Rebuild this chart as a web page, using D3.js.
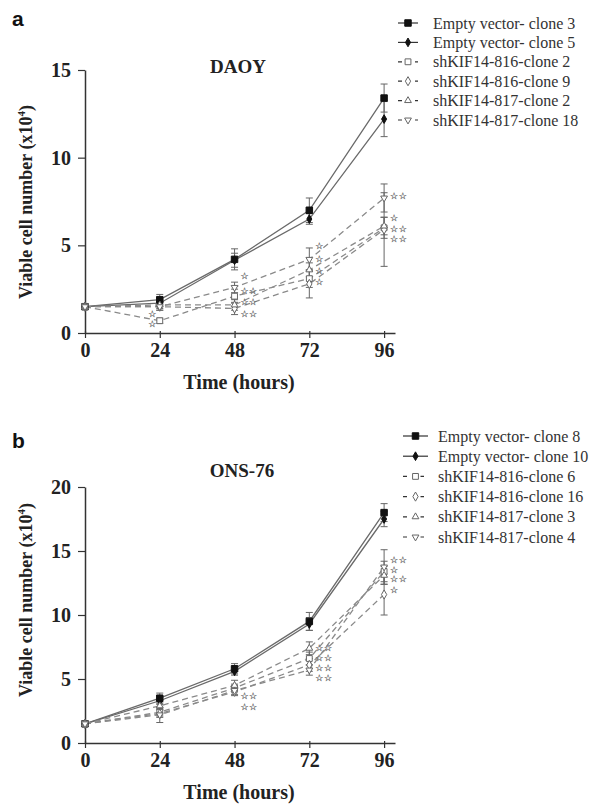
<!DOCTYPE html>
<html>
<head>
<meta charset="utf-8">
<script src="https://cdn.jsdelivr.net/npm/d3@7"></script>
<style>
  html, body { margin: 0; padding: 0; background: #fff; }
  svg { display: block; }
</style>
</head>
<body>
<svg id="chart" width="603" height="809"></svg>
<script>
// ---------- DATA ----------
const timePoints = [0, 24, 48, 72, 96];
const xTickLabels = ["0", "24", "48", "72", "96"];

// Panel a (DAOY)
const aSeriesNames = ["Empty vector- clone 3", "Empty vector- clone 5", "shKIF14-816-clone 2",
                      "shKIF14-816-clone 9", "shKIF14-817-clone 2", "shKIF14-817-clone 18"];
const aEmpty3   = [1.5, 1.9, 4.2, 7.0, 13.4];
const aEmpty5   = [1.5, 1.7, 4.15, 6.5, 12.2];
const a816c2    = [1.5, 0.7, 2.1, 3.1, 6.0];
const a816c9    = [1.5, 1.5, 1.4, 2.8, 5.9];
const a817c2    = [1.5, 1.6, 1.6, 3.6, 6.1];
const a817c18   = [1.5, 1.5, 2.6, 4.2, 7.7];
const aEmpty3Err = [0, 0.3, 0.6, 0.7, 0.8];
const aEmpty5Err = [0, 0.2, 0.4, 0.3, 1.0];
const a816c2Err  = [0, 0.15, 0.4, 0.5, 0.6];
const a816c9Err  = [0, 0.2, 0.35, 0.8, 2.1];
const a817c2Err  = [0, 0.2, 0.3, 0.4, 0.5];
const a817c18Err = [0, 0.2, 0.3, 0.65, 0.8];
const aYTicks = [0, 5, 10, 15];
// significance marks: [time, value, text, side]
const aStars = [
  [24, 1.1, "☆", "left"], [24, 0.5, "☆", "left"],
  [48, 3.25, "☆", "right"], [48, 2.4, "☆☆", "right"], [48, 1.77, "☆☆", "right"], [48, 1.12, "☆☆", "right"],
  [72, 4.96, "☆", "right"], [72, 4.24, "☆", "right"], [72, 3.54, "☆", "right"], [72, 2.9, "☆", "right"],
  [96, 7.8, "☆☆", "right"], [96, 6.55, "☆", "right"], [96, 5.95, "☆☆", "right"], [96, 5.35, "☆☆", "right"]
];

// Panel b (ONS-76)
const bSeriesNames = ["Empty vector- clone 8", "Empty vector- clone 10", "shKIF14-816-clone 6",
                      "shKIF14-816-clone 16", "shKIF14-817-clone 3", "shKIF14-817-clone 4"];
const bEmpty8   = [1.5, 3.5, 5.8, 9.5, 18.0];
const bEmpty10  = [1.5, 3.3, 5.6, 9.3, 17.5];
const b816c6    = [1.5, 2.4, 4.3, 6.6, 13.4];
const b816c16   = [1.5, 2.3, 4.0, 6.1, 11.6];
const b817c3    = [1.5, 2.9, 4.5, 7.4, 13.1];
const b817c4    = [1.5, 2.2, 4.1, 5.7, 13.75];
const bEmpty8Err  = [0, 0.4, 0.4, 0.7, 0.7];
const bEmpty10Err = [0, 0.3, 0.3, 0.5, 0.6];
const b816c6Err   = [0, 0.3, 0.3, 0.5, 0.8];
const b816c16Err  = [0, 0.3, 0.3, 0.5, 1.6];
const b817c3Err   = [0, 0.3, 0.4, 0.5, 0.7];
const b817c4Err   = [0, 0.6, 0.3, 0.4, 1.35];
const bYTicks = [0, 5, 10, 15, 20];
const bStars = [
  [48, 3.7, "☆☆", "right"], [48, 2.8, "☆☆", "right"],
  [72, 7.4, "☆☆", "right"], [72, 6.62, "☆☆", "right"], [72, 5.88, "☆☆", "right"], [72, 5.12, "☆☆", "right"],
  [96, 14.3, "☆☆", "right"], [96, 13.55, "☆", "right"], [96, 12.8, "☆☆", "right"], [96, 11.95, "☆", "right"]
];

const markerTypes = ["square", "diamond", "osquare", "odiamond", "otriangle", "otriangledown"];

// ---------- DRAWING ----------
const svg = d3.select("#chart");
const serif = "'Liberation Serif', 'Times New Roman', serif";

function markerPath(type, size) {
  const sym = {
    square: d3.symbolSquare, osquare: d3.symbolSquare,
    diamond: d3.symbolDiamond, odiamond: d3.symbolDiamond,
    otriangle: d3.symbolTriangle, otriangledown: d3.symbolTriangle
  }[type];
  return d3.symbol().type(sym).size(size)();
}
function drawMarker(g, type, x, y) {
  const filled = !type.startsWith("o");
  const size = type === "square" ? 42 : type === "diamond" ? 22 : type === "osquare" ? 34 : type === "odiamond" ? 24 : 20;
  g.append("path")
    .attr("d", markerPath(type, size))
    .attr("transform", `translate(${x},${y})` + (type === "otriangledown" ? " rotate(180)" : ""))
    .attr("fill", filled ? "#111" : "#fff")
    .attr("stroke", filled ? "#111" : "#666")
    .attr("stroke-width", 1);
}

function drawPanel(cfg) {
  const g = svg.append("g");
  const x = d3.scaleLinear().domain([0, 99.5]).range([85, 395]);
  const y = d3.scaleLinear().domain([0, cfg.yMax]).range([cfg.y0, cfg.yTop]);

  // panel letter
  g.append("text").attr("x", 12).attr("y", cfg.letterY)
    .attr("font-family", "'Liberation Sans', Arial, sans-serif").attr("font-weight", "bold")
    .attr("font-size", 21).attr("fill", "#111").text(cfg.letter);
  // title
  g.append("text").attr("x", cfg.titleX).attr("y", cfg.titleY).attr("text-anchor", "middle")
    .attr("font-family", serif).attr("font-weight", "bold").attr("font-size", 19)
    .attr("fill", "#222").text(cfg.title);

  // axes
  const yAxis = d3.axisLeft(y).tickValues(cfg.yTicks).tickSize(7).tickSizeOuter(0).tickPadding(7);
  const ya = g.append("g").attr("transform", "translate(85,0)").call(yAxis);
  ya.select(".domain").attr("stroke", "#333").attr("stroke-width", 1.5);
  ya.selectAll(".tick line").attr("stroke", "#333").attr("stroke-width", 1.2);
  ya.selectAll(".tick text").attr("font-family", serif).attr("font-weight", "bold")
    .attr("font-size", 20).attr("fill", "#222");

  const xAxis = d3.axisBottom(x).tickValues(timePoints).tickFormat((d, i) => xTickLabels[i])
    .tickSize(5).tickSizeOuter(0).tickPadding(5);
  const xa = g.append("g").attr("transform", `translate(0,${cfg.y0})`).call(xAxis);
  xa.select(".domain").attr("stroke", "#333").attr("stroke-width", 1.5);
  xa.selectAll(".tick line").attr("stroke", "#333").attr("stroke-width", 1.2).attr("y1", -2);
  xa.selectAll(".tick text").attr("font-family", serif).attr("font-weight", "bold")
    .attr("font-size", 20).attr("fill", "#222");

  // axis titles
  g.append("text").attr("x", 239).attr("y", cfg.y0 + 56).attr("text-anchor", "middle")
    .attr("font-family", serif).attr("font-weight", "bold").attr("font-size", 20)
    .attr("fill", "#222").text("Time (hours)");
  const yl = g.append("text")
    .attr("transform", `translate(32,${cfg.yLabelY}) rotate(-90)`)
    .attr("text-anchor", "middle").attr("font-family", serif).attr("font-weight", "bold")
    .attr("font-size", 18).attr("fill", "#222");
  yl.append("tspan").text("Viable cell number (x10");
  yl.append("tspan").attr("font-size", 11).attr("dy", -7).text("4");
  yl.append("tspan").attr("dy", 7).text(")");

  const line = d3.line().x((d, i) => x(timePoints[i])).y(d => y(d));

  // series
  cfg.series.forEach((s, k) => {
    const solid = k < 2;
    const sg = g.append("g");
    s.values.forEach((v, i) => {
      const e = s.err[i];
      if (e <= 0) return;
      const cx = x(timePoints[i]);
      sg.append("line").attr("x1", cx).attr("x2", cx).attr("y1", y(v - e)).attr("y2", y(v + e))
        .attr("stroke", "#666").attr("stroke-width", 1);
      [v - e, v + e].forEach(w => sg.append("line").attr("x1", cx - 3.5).attr("x2", cx + 3.5)
        .attr("y1", y(w)).attr("y2", y(w)).attr("stroke", "#666").attr("stroke-width", 1));
    });
    sg.append("path").attr("d", line(s.values)).attr("fill", "none")
      .attr("stroke", solid ? "#6a6a6a" : "#8a8a8a").attr("stroke-width", 1.3)
      .attr("stroke-dasharray", solid ? null : "6,4");
  });
  cfg.series.forEach((s, k) => {
    s.values.forEach((v, i) => drawMarker(g, markerTypes[k], x(timePoints[i]), y(v)));
  });

  // significance stars
  cfg.stars.forEach(([t, v, txt, side]) => {
    g.append("text")
      .attr("x", side === "left" ? x(t) - 3 : x(t) + 6)
      .attr("y", y(v) + 3.2)
      .attr("text-anchor", side === "left" ? "end" : "start")
      .attr("font-family", "'DejaVu Sans', sans-serif").attr("font-size", 9)
      .attr("letter-spacing", 0.5)
      .attr("fill", "#555").attr("stroke", "#777").attr("stroke-width", 0.25)
      .text(txt);
  });

  // legend
  const lg = g.append("g");
  cfg.series.forEach((s, k) => {
    const ly = cfg.legendY + k * cfg.legendStep;
    const solid = k < 2;
    lg.append("line").attr("x1", cfg.legendX).attr("x2", cfg.legendX + cfg.legendW)
      .attr("y1", ly).attr("y2", ly).attr("stroke", "#333").attr("stroke-width", 1.2)
      .attr("stroke-dasharray", solid ? null : "4,4.5");
    if (!solid) {
      lg.append("rect").attr("x", cfg.legendX + cfg.legendW / 2 - 5).attr("y", ly - 4)
        .attr("width", 10).attr("height", 8).attr("fill", "#fff");
    }
    drawMarker(lg, markerTypes[k], cfg.legendX + cfg.legendW / 2, ly);
    lg.append("text").attr("x", cfg.legendTextX).attr("y", ly).attr("dy", "0.35em")
      .attr("font-family", serif).attr("font-size", 16).attr("fill", "#333").text(s.name);
  });
}

drawPanel({
  letter: "a", letterY: 26, title: "DAOY", titleX: 238, titleY: 73,
  yMax: 15, y0: 333, yTop: 70, yTicks: aYTicks, yLabelY: 202,
  legendX: 398, legendW: 20, legendTextX: 433, legendY: 23, legendStep: 19.4,
  stars: aStars,
  series: [
    { name: aSeriesNames[0], values: aEmpty3, err: aEmpty3Err },
    { name: aSeriesNames[1], values: aEmpty5, err: aEmpty5Err },
    { name: aSeriesNames[2], values: a816c2, err: a816c2Err },
    { name: aSeriesNames[3], values: a816c9, err: a816c9Err },
    { name: aSeriesNames[4], values: a817c2, err: a817c2Err },
    { name: aSeriesNames[5], values: a817c18, err: a817c18Err }
  ]
});

drawPanel({
  letter: "b", letterY: 448, title: "ONS-76", titleX: 242, titleY: 477,
  yMax: 20, y0: 743, yTop: 487, yTicks: bYTicks, yLabelY: 600,
  legendX: 403, legendW: 25, legendTextX: 438, legendY: 436, legendStep: 20.2,
  stars: bStars,
  series: [
    { name: bSeriesNames[0], values: bEmpty8, err: bEmpty8Err },
    { name: bSeriesNames[1], values: bEmpty10, err: bEmpty10Err },
    { name: bSeriesNames[2], values: b816c6, err: b816c6Err },
    { name: bSeriesNames[3], values: b816c16, err: b816c16Err },
    { name: bSeriesNames[4], values: b817c3, err: b817c3Err },
    { name: bSeriesNames[5], values: b817c4, err: b817c4Err }
  ]
});
</script>
</body>
</html>
